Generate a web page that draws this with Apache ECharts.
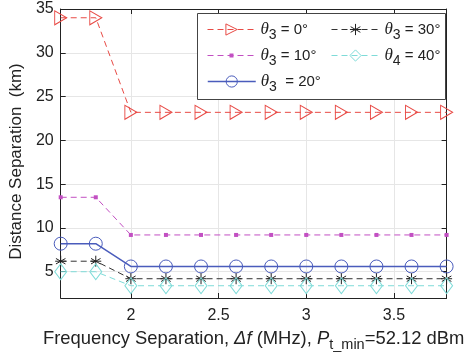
<!DOCTYPE html>
<html>
<head>
<meta charset="utf-8">
<script src="https://cdn.jsdelivr.net/npm/echarts@6/dist/echarts.min.js"></script>
<style>
  html, body { margin: 0; padding: 0; background: #fff; }
  #chart { width: 466px; height: 359px; }
</style>
</head>
<body>
<div id="chart"></div>
<script>
// frequency separation (MHz)
const freq = [1.6, 1.8, 2.0, 2.2, 2.4, 2.6, 2.8, 3.0, 3.2, 3.4, 3.6, 3.8];
// distance separation (km) per angle
const theta0 = [34, 34, 23.2, 23.2, 23.2, 23.2, 23.2, 23.2, 23.2, 23.2, 23.2, 23.2];
const theta10 = [13.5, 13.5, 9.2, 9.2, 9.2, 9.2, 9.2, 9.2, 9.2, 9.2, 9.2, 9.2];
const theta20 = [8.2, 8.2, 5.6, 5.6, 5.6, 5.6, 5.6, 5.6, 5.6, 5.6, 5.6, 5.6];
const theta30 = [6.2, 6.2, 4.2, 4.2, 4.2, 4.2, 4.2, 4.2, 4.2, 4.2, 4.2, 4.2];
const theta40 = [5.0, 5.0, 3.4, 3.4, 3.4, 3.4, 3.4, 3.4, 3.4, 3.4, 3.4, 3.4];

const xTicks = [2, 2.5, 3, 3.5];
const yTicks = [5, 10, 15, 20, 25, 30, 35];

const FONT = "Liberation Sans";
const asterisk = "path://M0,-5L0,5M-4.33,-2.5L4.33,2.5M-4.33,2.5L4.33,-2.5M-5,0L5,0";

function pairs(ys) {
    return freq.map((x, i) => [x, ys[i]]);
}

const legendRich = {
    t: { fontFamily: "Liberation Serif", fontStyle: "italic", fontSize: 17, color: "#222" },
    s: { fontFamily: FONT, fontSize: 14, color: "#222", padding: [12, 0, 0, 0] },
    n: { fontFamily: FONT, fontSize: 15, color: "#222" },
};

const names = {
    a: "θ3 = 0°",
    b: "θ3 = 10°",
    c: "θ3 = 20°",
    d: "θ3 = 30°",
    e: "θ4 = 40°",
};

function legendFmt(name) {
    const sub = name.charAt(1);
    const rest = name.slice(2);
    const gap = (name === names.c) ? "  " : " ";
    return "{t|θ}{s|" + sub + "}{n|" + gap + rest.trim() + "}";
}

// one legend per entry so the two-column, column-major layout can be kept
function legendAt(name, left, centerY, h, lw) {
    return {
        orient: "vertical",
        left: left, top: centerY - 13,
        itemWidth: 48, itemHeight: h, itemGap: 0,
        data: [name],
        formatter: legendFmt,
        lineStyle: { width: lw },
        itemStyle: { borderWidth: 1 },
        textStyle: { fontFamily: FONT, fontSize: 15, color: "#222", rich: legendRich },
        z: 10,
    };
}

const tickStyle = { inside: true, length: 5, lineStyle: { color: "#222" } };
const lineBlack = { show: true, onZero: false, lineStyle: { color: "#222", width: 1 } };

const option = {
    animation: false,
    backgroundColor: "#fff",
    grid: { left: 58, right: 18, top: 9, bottom: 61 },
    xAxis: [
        {
            type: "value", min: 1.6, max: 3.8,
            axisLine: lineBlack,
            axisTick: Object.assign({ customValues: xTicks }, tickStyle),
            axisLabel: { customValues: xTicks, fontFamily: FONT, fontSize: 16, color: "#222", margin: 10 },
            splitLine: { show: true, lineStyle: { color: "#e6e6e6" } },
            name: "Frequency Separation, {i|Δf} (MHz), {i|P}{s|t_min}=52.12 dBm",
            nameLocation: "middle",
            nameGap: 27,
            nameTextStyle: {
                fontFamily: FONT, fontSize: 18.4, color: "#222",
                rich: {
                    i: { fontFamily: FONT, fontStyle: "italic", fontSize: 18.4, color: "#222" },
                    s: { fontFamily: FONT, fontSize: 14.5, color: "#222", padding: [12, 0, 0, 0] },
                },
            },
        },
        {
            type: "value", position: "top", min: 1.6, max: 3.8,
            axisLine: lineBlack,
            axisTick: Object.assign({ customValues: xTicks }, tickStyle),
            axisLabel: { show: false },
            splitLine: { show: false },
        },
    ],
    yAxis: [
        {
            type: "value", min: 2, max: 35,
            axisLine: lineBlack,
            axisTick: Object.assign({ customValues: yTicks }, tickStyle),
            axisLabel: { customValues: yTicks, fontFamily: FONT, fontSize: 16, color: "#222", margin: 7 },
            splitLine: { show: true, lineStyle: { color: "#e6e6e6" } },
            name: "Distance Separation  (km)",
            nameLocation: "middle",
            nameGap: 32,
            nameTextStyle: { fontFamily: FONT, fontSize: 17, color: "#222", padding: [0, 16, 0, 0] },
        },
        {
            type: "value", position: "right", min: 2, max: 35,
            axisLine: lineBlack,
            axisTick: Object.assign({ customValues: yTicks }, tickStyle),
            axisLabel: { show: false },
            splitLine: { show: false },
        },
    ],
    legend: [
        legendAt(names.a, 202, 29, 14, 1),
        legendAt(names.b, 202, 55, 5, 1),
        legendAt(names.c, 202, 81, 14, 1.5),
        legendAt(names.d, 326, 29, 14, 1),
        legendAt(names.e, 326, 55, 14, 1),
    ],
    graphic: [
        {
            type: "rect",
            shape: { x: 197.5, y: 13.5, width: 248, height: 86 },
            style: { fill: "#fff", stroke: "#444", lineWidth: 1 },
            z: 8,
        },
    ],
    series: [
        {
            name: names.a, type: "line", data: pairs(theta0), clip: false,
            symbol: "triangle", symbolSize: [14, 12], symbolRotate: -90,
            itemStyle: { color: "none", borderColor: "#e84a45", borderWidth: 1 },
            lineStyle: { color: "#e84a45", width: 1, type: [6, 4] },
            z: 3,
        },
        {
            name: names.b, type: "line", data: pairs(theta10), clip: false,
            symbol: "rect", symbolSize: 4,
            itemStyle: { color: "#c24fc2" },
            lineStyle: { color: "#c24fc2", width: 1, type: [6, 4] },
        },
        {
            name: names.c, type: "line", data: pairs(theta20), clip: false,
            symbol: "circle", symbolSize: 13,
            itemStyle: { color: "none", borderColor: "#4a5cbc", borderWidth: 1 },
            lineStyle: { color: "#4a5cbc", width: 1.5 },
        },
        {
            name: names.d, type: "line", data: pairs(theta30), clip: false,
            symbol: asterisk, symbolSize: 11,
            itemStyle: { color: "none", borderColor: "#222", borderWidth: 1 },
            lineStyle: { color: "#333", width: 1, type: [6, 4] },
        },
        {
            name: names.e, type: "line", data: pairs(theta40), clip: false,
            symbol: "diamond", symbolSize: [12, 16],
            itemStyle: { color: "none", borderColor: "#7edbd8", borderWidth: 1 },
            lineStyle: { color: "#7edbd8", width: 1, type: [6, 4] },
        },
    ],
};

const chart = echarts.init(document.getElementById("chart"), null, { renderer: "canvas" });
chart.setOption(option);
</script>
</body>
</html>
